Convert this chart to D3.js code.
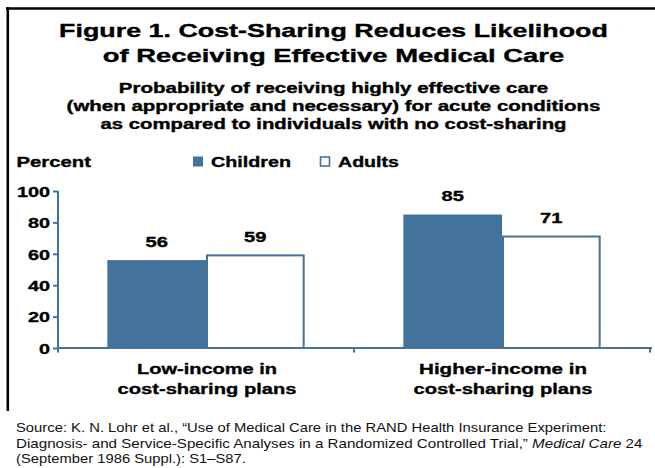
<!DOCTYPE html>
<html>
<head>
<meta charset="utf-8">
<script src="https://cdn.jsdelivr.net/npm/d3@7"></script>
<style>
html,body{margin:0;padding:0;background:#fff;}
svg{display:block;font-family:"Liberation Sans",Arial,Helvetica,sans-serif;}
text.b{stroke:#000;stroke-width:0.35px;}
</style>
</head>
<body>
<svg id="chart" width="655" height="468"></svg>
<script>
const categories = ["Low-income in\ncost-sharing plans", "Higher-income in\ncost-sharing plans"];
const seriesNames = ["Children", "Adults"];
const children = [56, 85];
const adults = [59, 71];
const yTicks = [0, 20, 40, 60, 80, 100];
const titleLines = ["Figure 1. Cost-Sharing Reduces Likelihood", "of Receiving Effective Medical Care"];
const subtitleLines = ["Probability of receiving highly effective care",
  "(when appropriate and necessary) for acute conditions",
  "as compared to individuals with no cost-sharing"];
const yLabel = "Percent";

const BLUE = "#43739a";
const svg = d3.select("#chart");

function fit(sel, w) {
  sel.each(function () {
    const t = d3.select(this);
    const bw = this.getBBox().width;
    const x = +t.attr("x") || 0, y = +t.attr("y") || 0;
    const s = w / bw;
    t.attr("x", 0).attr("y", 0).attr("transform", `translate(${x},${y}) scale(${s},1)`);
  });
  return sel;
}
function stretch(sel, k) {
  sel.each(function () {
    const t = d3.select(this);
    const x = +t.attr("x") || 0, y = +t.attr("y") || 0;
    t.attr("x", 0).attr("y", 0).attr("transform", `translate(${x},${y}) scale(${k},1)`);
  });
  return sel;
}

// frame
svg.append("line").attr("x1", 6).attr("x2", 655).attr("y1", 8.5).attr("y2", 8.5)
  .attr("stroke", "#000").attr("stroke-width", 2.6);
svg.append("line").attr("x1", 7.8).attr("x2", 7.8).attr("y1", 7.2).attr("y2", 411)
  .attr("stroke", "#000").attr("stroke-width", 2.6);

// titles
const titleW = [549, 462];
const titleY = [37, 62];
titleLines.forEach((t, i) => {
  fit(svg.append("text").attr("class", "b").attr("x", 333.5).attr("y", titleY[i]).attr("text-anchor", "middle")
    .attr("font-size", 18.5).attr("font-weight", "bold").text(t), titleW[i]);
});
const subW = [430, 534, 466];
const subY = [93, 111, 128.5];
subtitleLines.forEach((t, i) => {
  fit(svg.append("text").attr("class", "b").attr("x", 333.5).attr("y", subY[i]).attr("text-anchor", "middle")
    .attr("font-size", 14).attr("font-weight", "bold").text(t), subW[i]);
});

// scales
const x0 = d3.scaleBand().domain(categories).range([58, 650]).paddingInner(0).paddingOuter(0);
const x1 = d3.scaleBand().domain(seriesNames).range([0, x0.bandwidth()]).paddingInner(0).paddingOuter(0.5);
const y = d3.scaleLinear().domain([0, 100]).range([348, 191]);

// y axis
const yAxis = svg.append("g").attr("transform", "translate(58,0)")
  .call(d3.axisLeft(y).tickValues(yTicks).tickSize(5).tickPadding(0).tickFormat(d3.format("d")));
yAxis.select(".domain").attr("stroke", BLUE).attr("stroke-width", 2).attr("d", `M0,${y(100)}V${y(0) + 4}`);
yAxis.selectAll(".tick line").attr("stroke", BLUE).attr("stroke-width", 2);
yAxis.selectAll(".tick text").attr("class", "b").attr("font-size", 15).attr("font-weight", "bold").attr("fill", "#000")
  .attr("font-family", "Liberation Sans, Arial, sans-serif");
yAxis.selectAll(".tick text").each(function () {
  d3.select(this).attr("x", null).attr("dy", null).attr("y", null)
    .attr("transform", "translate(-8,5.2) scale(1.32,1)");
});

// data rows
const rows = categories.map((c, i) => ({ cat: c, values: [
  { s: seriesNames[0], v: children[i] }, { s: seriesNames[1], v: adults[i] }] }));

const groups = svg.append("g").selectAll("g").data(rows).join("g")
  .attr("transform", d => `translate(${x0(d.cat)},0)`);
groups.selectAll("rect").data(d => d.values).join("rect")
  .attr("x", d => x1(d.s) + (d.s === "Adults" ? 1 : 0))
  .attr("width", d => x1.bandwidth() - (d.s === "Adults" ? 2 : 0))
  .attr("y", d => y(d.v))
  .attr("height", d => y(0) - y(d.v))
  .attr("fill", d => d.s === "Children" ? BLUE : "#fff")
  .attr("stroke", d => d.s === "Children" ? "none" : BLUE)
  .attr("stroke-width", 2);
groups.selectAll("text.val").data(d => d.values).join("text").attr("class", "val b")
  .attr("text-anchor", "middle").attr("font-size", 15.5).attr("font-weight", "bold")
  .attr("x", d => x1(d.s) + x1.bandwidth() / 2).attr("y", d => y(d.v) - 13.5)
  .text(d => d.v)
  .call(stretch, 1.3);

// x axis
const xa = svg.append("g");
xa.append("line").attr("x1", 58).attr("x2", 652).attr("y1", y(0)).attr("y2", y(0))
  .attr("stroke", BLUE).attr("stroke-width", 2);
const bounds = [x0(categories[0])].concat(categories.map(c => x0(c) + x0.bandwidth()));
xa.selectAll("line.tk").data(bounds).join("line").attr("class", "tk")
  .attr("x1", d => d).attr("x2", d => d).attr("y1", y(0)).attr("y2", y(0) + 4.5)
  .attr("stroke", BLUE).attr("stroke-width", 2);

// category labels
const catW = [[140, 179], [168, 179]];
categories.forEach((c, i) => {
  c.split("\n").forEach((ln, j) => {
    fit(svg.append("text").attr("class", "b").attr("x", x0(c) + x0.bandwidth() / 2 + 1).attr("y", 374 + j * 19.5)
      .attr("text-anchor", "middle").attr("font-size", 15.5).attr("font-weight", "bold").text(ln), catW[i][j]);
  });
});

// legend / y label
fit(svg.append("text").attr("class", "b").attr("x", 16.5).attr("y", 167).attr("font-size", 15).attr("font-weight", "bold").text(yLabel), 74.5);
const legX = [193, 320];
const legTW = [80, 61];
seriesNames.forEach((s, i) => {
  svg.append("rect").attr("x", legX[i] + (i ? 0.5 : 0)).attr("y", 156.5 + (i ? 0.5 : 0))
    .attr("width", 10 - (i ? 1 : 0)).attr("height", 10 - (i ? 1 : 0))
    .attr("fill", i ? "#fff" : BLUE).attr("stroke", i ? BLUE : "none").attr("stroke-width", 1.6);
  fit(svg.append("text").attr("class", "b").attr("x", legX[i] + 18).attr("y", 167).attr("font-size", 15)
    .attr("font-weight", "bold").text(s), legTW[i]);
});

// source
const src = svg.append("g").attr("font-size", 13).attr("fill", "#111");
fit(src.append("text").attr("x", 16).attr("y", 432)
  .text("Source: K. N. Lohr et al., \u201CUse of Medical Care in the RAND Health Insurance Experiment:"), 591);
const l2 = src.append("text").attr("x", 16).attr("y", 447.5);
l2.append("tspan").text("Diagnosis- and Service-Specific Analyses in a Randomized Controlled Trial,\u201D ");
l2.append("tspan").attr("font-style", "italic").text("Medical Care");
l2.append("tspan").text(" 24");
fit(l2, 627);
fit(src.append("text").attr("x", 16).attr("y", 463).text("(September 1986 Suppl.): S1\u2013S87."), 230);
</script>
</body>
</html>
